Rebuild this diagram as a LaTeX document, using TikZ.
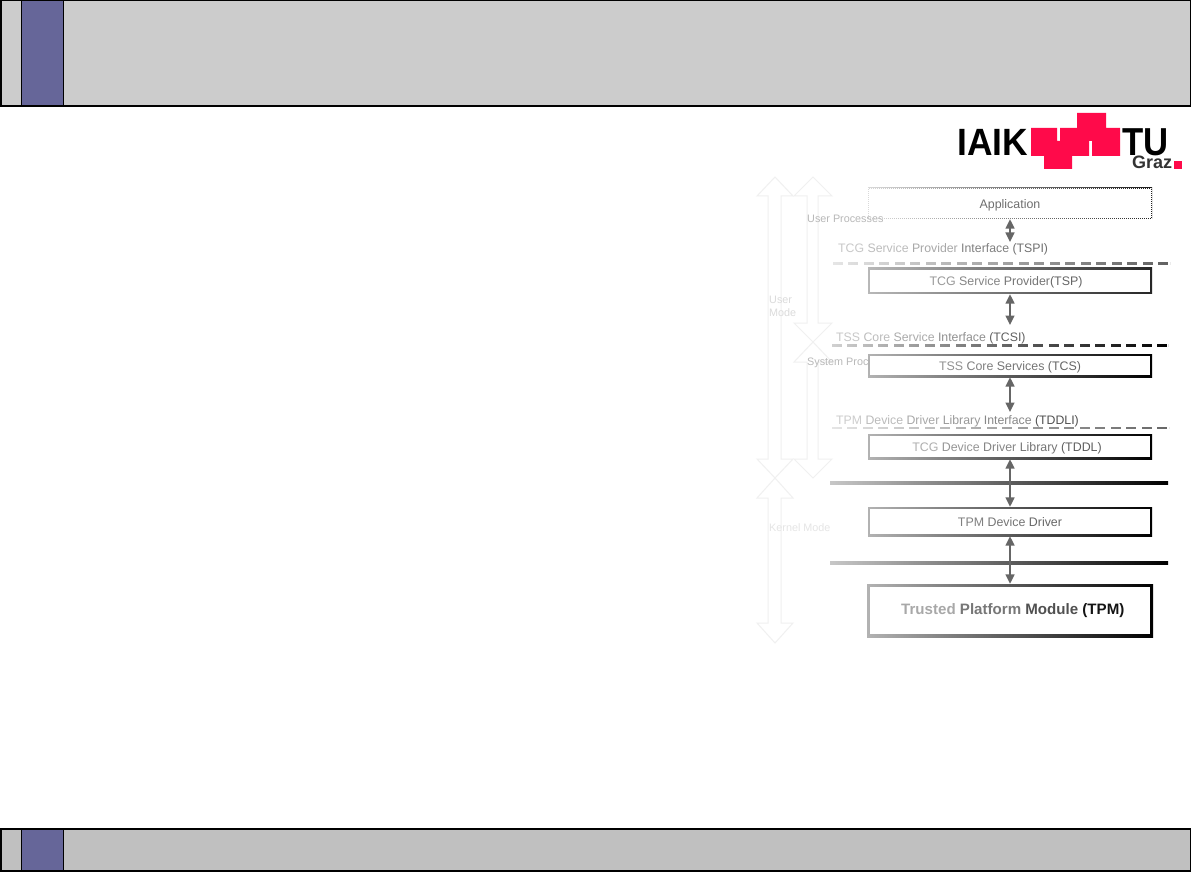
\documentclass[tikz,border=0pt]{standalone}
\usepackage{fontspec}
\setmainfont{Liberation Sans}
\usetikzlibrary{arrows.meta,calc}
\definecolor{barA}{HTML}{CCCCCC}
\definecolor{barB}{HTML}{C0C0C0}
\definecolor{purp}{HTML}{666699}
\definecolor{tured}{HTML}{FF0A4A}
\definecolor{ghost}{HTML}{F0F0F0}
\newcommand{\gr}[2]{\textcolor[HTML]{#1}{#2}}
\tikzset{
  x=1pt,y=-1pt,
  framebar/.style={draw=black,line width=1.5pt},
  ghostarrow/.style={draw=ghost,line width=1pt,line join=miter},
  ghostlabel/.style={text=#1,font=\fontsize{10.8}{13}\selectfont,inner sep=0pt,anchor=west,align=left},
  ifacelabel/.style={font=\fontsize{12.3}{15}\selectfont,inner sep=0pt,anchor=west},
  biarrow/.style={draw=black!60,line width=1.6pt,{Triangle[width=9pt,length=9.5pt]}-{Triangle[width=9pt,length=9.5pt]}},
}
% framed box: name, x1, y1, x2, y2, line width, left colour, right colour, text
\newcommand{\gframe}[9]{%
  \shade[left color=#7,right color=#8] (#2,#3) rectangle (#4,#5);
  \fill[white] ({#2+#6},{#3+#6}) rectangle ({#4-#6},{#5-#6});
  \node[inner sep=0pt,font=\fontsize{12.4}{14}\selectfont,text height=9.5pt,text depth=0pt] (#1) at ({(#2+#4)/2},{(#3+#5)/2})
     [minimum width={#4-#2},minimum height={#5-#3}] {#9};
}
% gradient rule
\newcommand{\grule}[6]{%
  \shade[left color=#5,right color=#6] (#1,{#3-#4/2}) rectangle (#2,{#3+#4/2});
}
\begin{document}
\begin{tikzpicture}
\useasboundingbox (0,0) rectangle (1191,893);
\fill[white] (0,0) rectangle (1191,893);
% header and footer
\draw[framebar,fill=barA] (0.75,0.75) rectangle (1190.25,106);
\draw[framebar,fill=purp] (21.5,0.75) rectangle (63.5,106);
\draw[framebar,fill=barB] (0.75,829) rectangle (1190.25,871);
\draw[framebar,fill=purp] (21.5,829) rectangle (63.5,871);
% logo
\fill[tured] (1031,128)--(1057,128)--(1057,141)--(1060,141)--(1060,128)--(1077,128)--(1077,113)--(1106,113)--(1106,128)--(1120,128)--(1120,156)--(1092,156)--(1092,141)--(1089,141)--(1089,156)--(1072,156)--(1072,169)--(1044,169)--(1044,156)--(1031,156)--cycle;
\fill[tured] (1174,161) rectangle (1182,169);
\node[inner sep=0pt,anchor=base west,font=\fontsize{38}{40}\bfseries\selectfont,xscale=0.93] (iaik) at (957,155.5) {IAIK};
\node[inner sep=0pt,anchor=base west,font=\fontsize{39}{40}\bfseries\selectfont,xscale=0.89,text depth=0pt] (tu) at (1122,155.5) {TU};
\node[inner sep=0pt,anchor=base west,font=\fontsize{18}{20}\bfseries\selectfont,text=black!80,text height=12.5pt] (graz) at (1132,169) {Graz};
% ghost side arrows
\draw[ghostarrow] (775,177)--(793,196)--(781,196)--(781,459)--(793,459)--(775,478)--(757,459)--(768,459)--(768,196)--(757,196)--cycle;
\draw[ghostarrow] (775,478)--(793,498)--(781,498)--(781,623)--(793,623)--(775,643)--(757,623)--(768,623)--(768,498)--(757,498)--cycle;
\draw[ghostarrow] (813,177)--(832,196)--(818,196)--(818,323)--(832,323)--(813,342)--(794,323)--(807,323)--(807,196)--(794,196)--cycle;
\draw[ghostarrow] (813,342)--(832,362)--(818,362)--(818,459)--(832,459)--(813,478)--(794,459)--(807,459)--(807,362)--(794,362)--cycle;
\node[ghostlabel=black!14] (lusermode) at (769,306.5) {User\\Mode};
\node[ghostlabel=black!10] (lkernel) at (769,527.5) {Kernel Mode};
\node[ghostlabel=black!28] (lsystem) at (807,363) {System Proc};
% interface rules
\grule{833}{1170}{263.5}{1.6}{black!10}{black!62}
\draw[white,line width=2.2pt,dash pattern=on 5.5pt off 10pt] (827,263.5)--(1170,263.5);
\grule{831}{1168}{345.5}{1.6}{black!18}{black}
\draw[white,line width=2.2pt,dash pattern=on 5.5pt off 10pt] (826,345.5)--(1168,345.5);
\grule{831}{1169}{428}{1.6}{black!10}{black!60}
\draw[white,line width=2.2pt,dash pattern=on 5.5pt off 10pt] (826,428)--(1169,428);
\grule{830}{1168}{483}{3}{black!22}{black}
\grule{830}{1168}{563}{3}{black!22}{black}
% boxes
\gframe{app}{868}{188}{1152}{219}{1}{black!15}{black!90}{\gr{6E6E6E}{Application}}
\draw[white,line width=1.1pt,dash pattern=on 1pt off 1pt] (868.5,188.5) rectangle (1151.5,218.5);
\gframe{tsp}{868}{268}{1152}{294}{1.8}{black!28}{black!85}{\gr{999999}{TCG} \gr{858585}{Service} \gr{757575}{Provider}\gr{656565}{(TSP)}\hspace*{8pt}}
\gframe{tcs}{868}{354}{1152}{377}{2}{black!30}{black}{\gr{909090}{TSS} \gr{808080}{Core} \gr{757575}{Services} \gr{666666}{(TCS)}}
\gframe{tddl}{868}{434}{1152}{459}{1.6}{black!30}{black}{\gr{AFAFAF}{TCG} \gr{959595}{Device} \gr{858585}{Driver} \gr{757575}{Library} \gr{5E5E5E}{(TDDL)}\hspace*{6pt}}
\gframe{tdd}{868}{507}{1152}{536}{1.6}{black!30}{black}{\gr{808080}{TPM} \gr{757575}{Device} \gr{666666}{Driver}}
\gframe{tpm}{867}{584}{1153}{637}{2.8}{black!30}{black}{}
\node[inner sep=0pt,anchor=west,font=\fontsize{15.1}{17}\bfseries\selectfont] (tpmtext) at (901,611) {\gr{A8A8A8}{Trusted} \gr{777777}{Platform} \gr{505050}{Module} \gr{141414}{(TPM)}};
\node[ghostlabel=black!28] (luser) at (807,218.5) {User Processes};
% interface labels
\node[ifacelabel] (ltspi) at (838,249) {\gr{C8C8C8}{TCG} \gr{BDBDBD}{Service} \gr{A8A8A8}{Provider} \gr{808080}{Interface} \gr{707070}{(TSPI)}};
\node[ifacelabel] (ltcsi) at (836,338) {\gr{C8C8C8}{TSS} \gr{BDBDBD}{Core} \gr{ABABAB}{Service} \gr{909090}{Interface} \gr{606060}{(TCSI)}};
\node[ifacelabel] (ltddli) at (836,421) {\gr{CCCCCC}{TPM} \gr{BBBBBB}{Device} \gr{A8A8A8}{Driver} \gr{999999}{Library} \gr{888888}{Interface} \gr{505050}{(TDDLI)}};
% connectors
\coordinate (c1) at (1010,242);
\coordinate (c2) at (1010,325);
\coordinate (c3) at (1010,412);
\draw[biarrow] (app.south) -- (c1);
\draw[biarrow] (tsp.south) -- (c2);
\draw[biarrow] (tcs.south) -- (c3);
\draw[biarrow] (tddl.south) -- (tdd.north);
\draw[biarrow] (tdd.south) -- (tpm.north);
\end{tikzpicture}
\end{document}
